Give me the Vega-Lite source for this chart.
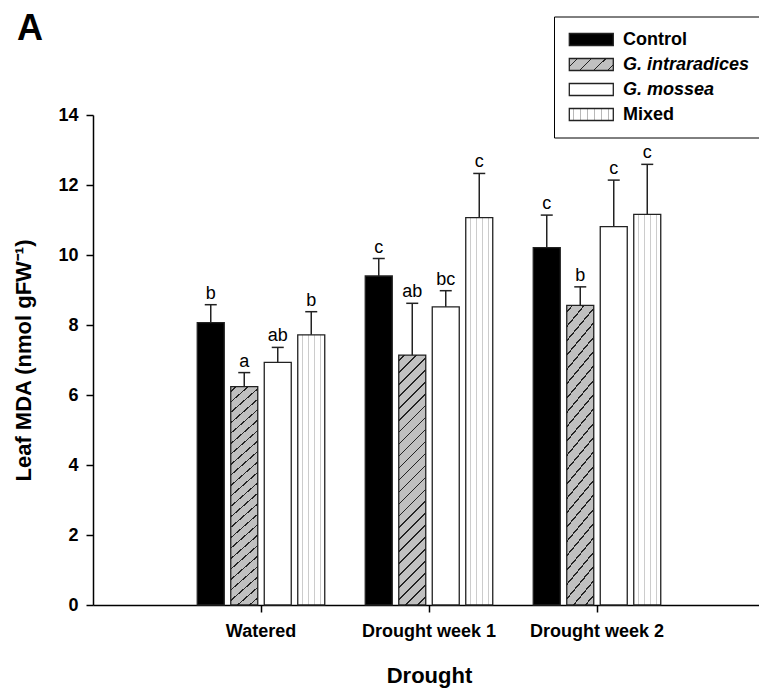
{
  "$schema": "https://vega.github.io/schema/vega-lite/v6.json",
  "width": 672,
  "height": 490,
  "autosize": {"type": "none"},
  "padding": {"left": 93, "top": 115, "right": 0, "bottom": 86},
  "background": "white",
  "config": {
    "font": "Liberation Sans",
    "view": {"stroke": null},
    "axis": {
      "grid": false,
      "domainColor": "black",
      "domainWidth": 1.5,
      "tickColor": "black",
      "tickWidth": 1.5,
      "tickSize": 7,
      "labelFont": "Liberation Sans",
      "labelFontSize": 18,
      "labelFontWeight": "bold",
      "labelColor": "black",
      "titleFont": "Liberation Sans",
      "titleFontSize": 22,
      "titleFontWeight": "bold",
      "titleColor": "black"
    }
  },
  "title": {
    "text": "A",
    "anchor": "start",
    "frame": "group",
    "fontSize": 36,
    "fontWeight": "bold",
    "color": "black",
    "dx": -76,
    "offset": -60,
    "baseline": "alphabetic"
  },
  "data": {
    "values": [
      {"drought": "Watered", "group": "Control", "value": 8.07, "upper": 8.58, "letter": "b"},
      {"drought": "Watered", "group": "G. intraradices", "value": 6.24, "upper": 6.64, "letter": "a"},
      {"drought": "Watered", "group": "G. mossea", "value": 6.93, "upper": 7.36, "letter": "ab"},
      {"drought": "Watered", "group": "Mixed", "value": 7.72, "upper": 8.38, "letter": "b"},
      {"drought": "Drought week 1", "group": "Control", "value": 9.4, "upper": 9.9, "letter": "c"},
      {"drought": "Drought week 1", "group": "G. intraradices", "value": 7.14, "upper": 8.62, "letter": "ab"},
      {"drought": "Drought week 1", "group": "G. mossea", "value": 8.52, "upper": 8.98, "letter": "bc"},
      {"drought": "Drought week 1", "group": "Mixed", "value": 11.07, "upper": 12.33, "letter": "c"},
      {"drought": "Drought week 2", "group": "Control", "value": 10.21, "upper": 11.14, "letter": "c"},
      {"drought": "Drought week 2", "group": "G. intraradices", "value": 8.56, "upper": 9.09, "letter": "b"},
      {"drought": "Drought week 2", "group": "G. mossea", "value": 10.81, "upper": 12.14, "letter": "c"},
      {"drought": "Drought week 2", "group": "Mixed", "value": 11.16, "upper": 12.59, "letter": "c"}
    ]
  },
  "encoding": {
    "x": {
      "field": "drought",
      "type": "nominal",
      "sort": ["Watered", "Drought week 1", "Drought week 2"],
      "scale": {"paddingInner": 0.2, "paddingOuter": 0.6},
      "axis": {"title": "Drought", "labelAngle": 0, "labelPadding": 10, "titlePadding": 25}
    },
    "xOffset": {
      "field": "group",
      "type": "nominal",
      "sort": ["Control", "G. intraradices", "G. mossea", "Mixed"],
      "scale": {"paddingInner": 0.194, "paddingOuter": 0.103}
    }
  },
  "layer": [
    {
      "mark": {"type": "bar", "stroke": "#222222", "strokeWidth": 1.3},
      "encoding": {
        "y": {
          "field": "value",
          "type": "quantitative",
          "title": "Leaf MDA (nmol gFW⁻¹)",
          "scale": {"domain": [0, 14], "nice": false},
          "axis": {"values": [0, 2, 4, 6, 8, 10, 12, 14], "labelPadding": 8, "titlePadding": 22}
        },
        "color": {
          "condition": [
            {
              "test": "datum.group === 'G. intraradices'",
              "value": {
                "gradient": "linear", "x1": 0, "y1": 0, "x2": 0.119, "y2": 1.1,
                "stops": [
                  {"offset": 0.017, "color": "#c0c0c0"}, {"offset": 0.017, "color": "#222222"}, {"offset": 0.023, "color": "#222222"}, {"offset": 0.023, "color": "#c0c0c0"},
                  {"offset": 0.06, "color": "#c0c0c0"}, {"offset": 0.06, "color": "#222222"}, {"offset": 0.066, "color": "#222222"}, {"offset": 0.066, "color": "#c0c0c0"},
                  {"offset": 0.103, "color": "#c0c0c0"}, {"offset": 0.103, "color": "#222222"}, {"offset": 0.109, "color": "#222222"}, {"offset": 0.109, "color": "#c0c0c0"},
                  {"offset": 0.146, "color": "#c0c0c0"}, {"offset": 0.146, "color": "#222222"}, {"offset": 0.152, "color": "#222222"}, {"offset": 0.152, "color": "#c0c0c0"},
                  {"offset": 0.189, "color": "#c0c0c0"}, {"offset": 0.189, "color": "#222222"}, {"offset": 0.195, "color": "#222222"}, {"offset": 0.195, "color": "#c0c0c0"},
                  {"offset": 0.232, "color": "#c0c0c0"}, {"offset": 0.232, "color": "#222222"}, {"offset": 0.238, "color": "#222222"}, {"offset": 0.238, "color": "#c0c0c0"},
                  {"offset": 0.275, "color": "#c0c0c0"}, {"offset": 0.275, "color": "#222222"}, {"offset": 0.281, "color": "#222222"}, {"offset": 0.281, "color": "#c0c0c0"},
                  {"offset": 0.318, "color": "#c0c0c0"}, {"offset": 0.318, "color": "#222222"}, {"offset": 0.324, "color": "#222222"}, {"offset": 0.324, "color": "#c0c0c0"},
                  {"offset": 0.361, "color": "#c0c0c0"}, {"offset": 0.361, "color": "#222222"}, {"offset": 0.367, "color": "#222222"}, {"offset": 0.367, "color": "#c0c0c0"},
                  {"offset": 0.404, "color": "#c0c0c0"}, {"offset": 0.404, "color": "#222222"}, {"offset": 0.41, "color": "#222222"}, {"offset": 0.41, "color": "#c0c0c0"},
                  {"offset": 0.447, "color": "#c0c0c0"}, {"offset": 0.447, "color": "#222222"}, {"offset": 0.453, "color": "#222222"}, {"offset": 0.453, "color": "#c0c0c0"},
                  {"offset": 0.49, "color": "#c0c0c0"}, {"offset": 0.49, "color": "#222222"}, {"offset": 0.496, "color": "#222222"}, {"offset": 0.496, "color": "#c0c0c0"},
                  {"offset": 0.533, "color": "#c0c0c0"}, {"offset": 0.533, "color": "#222222"}, {"offset": 0.539, "color": "#222222"}, {"offset": 0.539, "color": "#c0c0c0"},
                  {"offset": 0.576, "color": "#c0c0c0"}, {"offset": 0.576, "color": "#222222"}, {"offset": 0.582, "color": "#222222"}, {"offset": 0.582, "color": "#c0c0c0"},
                  {"offset": 0.619, "color": "#c0c0c0"}, {"offset": 0.619, "color": "#222222"}, {"offset": 0.625, "color": "#222222"}, {"offset": 0.625, "color": "#c0c0c0"},
                  {"offset": 0.662, "color": "#c0c0c0"}, {"offset": 0.662, "color": "#222222"}, {"offset": 0.668, "color": "#222222"}, {"offset": 0.668, "color": "#c0c0c0"},
                  {"offset": 0.705, "color": "#c0c0c0"}, {"offset": 0.705, "color": "#222222"}, {"offset": 0.711, "color": "#222222"}, {"offset": 0.711, "color": "#c0c0c0"},
                  {"offset": 0.748, "color": "#c0c0c0"}, {"offset": 0.748, "color": "#222222"}, {"offset": 0.754, "color": "#222222"}, {"offset": 0.754, "color": "#c0c0c0"},
                  {"offset": 0.791, "color": "#c0c0c0"}, {"offset": 0.791, "color": "#222222"}, {"offset": 0.797, "color": "#222222"}, {"offset": 0.797, "color": "#c0c0c0"},
                  {"offset": 0.834, "color": "#c0c0c0"}, {"offset": 0.834, "color": "#222222"}, {"offset": 0.84, "color": "#222222"}, {"offset": 0.84, "color": "#c0c0c0"},
                  {"offset": 0.877, "color": "#c0c0c0"}, {"offset": 0.877, "color": "#222222"}, {"offset": 0.883, "color": "#222222"}, {"offset": 0.883, "color": "#c0c0c0"},
                  {"offset": 0.92, "color": "#c0c0c0"}, {"offset": 0.92, "color": "#222222"}, {"offset": 0.926, "color": "#222222"}, {"offset": 0.926, "color": "#c0c0c0"},
                  {"offset": 0.963, "color": "#c0c0c0"}, {"offset": 0.963, "color": "#222222"}, {"offset": 0.969, "color": "#222222"}, {"offset": 0.969, "color": "#c0c0c0"}
                ]
              }
            },
            {
              "test": "datum.group === 'Mixed'",
              "value": {
                "gradient": "linear", "x1": 0, "y1": 0, "x2": 1, "y2": 0,
                "stops": [
                  {"offset": 0.15, "color": "#ffffff"}, {"offset": 0.15, "color": "#cccccc"}, {"offset": 0.19, "color": "#cccccc"}, {"offset": 0.19, "color": "#ffffff"},
                  {"offset": 0.37, "color": "#ffffff"}, {"offset": 0.37, "color": "#cccccc"}, {"offset": 0.41, "color": "#cccccc"}, {"offset": 0.41, "color": "#ffffff"},
                  {"offset": 0.59, "color": "#ffffff"}, {"offset": 0.59, "color": "#cccccc"}, {"offset": 0.63, "color": "#cccccc"}, {"offset": 0.63, "color": "#ffffff"},
                  {"offset": 0.81, "color": "#ffffff"}, {"offset": 0.81, "color": "#cccccc"}, {"offset": 0.85, "color": "#cccccc"}, {"offset": 0.85, "color": "#ffffff"}
                ]
              }
            }
          ],
          "field": "group",
          "type": "nominal",
          "scale": {
            "domain": ["Control", "G. intraradices", "G. mossea", "Mixed"],
            "range": [
              "#000000",
              {"expr": "{gradient: 'linear', x1: 0, y1: 0, x2: 1.185, y2: 0.3235, stops: [{offset: 0.136, color: '#c0c0c0'}, {offset: 0.136, color: '#222222'}, {offset: 0.164, color: '#222222'}, {offset: 0.164, color: '#c0c0c0'}, {offset: 0.386, color: '#c0c0c0'}, {offset: 0.386, color: '#222222'}, {offset: 0.414, color: '#222222'}, {offset: 0.414, color: '#c0c0c0'}, {offset: 0.636, color: '#c0c0c0'}, {offset: 0.636, color: '#222222'}, {offset: 0.664, color: '#222222'}, {offset: 0.664, color: '#c0c0c0'}, {offset: 0.886, color: '#c0c0c0'}, {offset: 0.886, color: '#222222'}, {offset: 0.914, color: '#222222'}, {offset: 0.914, color: '#c0c0c0'}]}"},
              "#ffffff",
              {"expr": "{gradient: 'linear', x1: 0, y1: 0, x2: 1, y2: 0, stops: [{offset: 0.09, color: '#ffffff'}, {offset: 0.09, color: '#b8b8b8'}, {offset: 0.11, color: '#b8b8b8'}, {offset: 0.11, color: '#ffffff'}, {offset: 0.25, color: '#ffffff'}, {offset: 0.25, color: '#b8b8b8'}, {offset: 0.27, color: '#b8b8b8'}, {offset: 0.27, color: '#ffffff'}, {offset: 0.41, color: '#ffffff'}, {offset: 0.41, color: '#b8b8b8'}, {offset: 0.43, color: '#b8b8b8'}, {offset: 0.43, color: '#ffffff'}, {offset: 0.57, color: '#ffffff'}, {offset: 0.57, color: '#b8b8b8'}, {offset: 0.59, color: '#b8b8b8'}, {offset: 0.59, color: '#ffffff'}, {offset: 0.73, color: '#ffffff'}, {offset: 0.73, color: '#b8b8b8'}, {offset: 0.75, color: '#b8b8b8'}, {offset: 0.75, color: '#ffffff'}, {offset: 0.89, color: '#ffffff'}, {offset: 0.89, color: '#b8b8b8'}, {offset: 0.91, color: '#b8b8b8'}, {offset: 0.91, color: '#ffffff'}]}"}
            ]
          },
          "legend": {
            "title": null,
            "orient": "none",
            "legendX": 461,
            "legendY": -98.5,
            "direction": "vertical",
            "strokeColor": "black",
            "fillColor": "white",
            "padding": 14,
            "symbolType": "M-1.4,-1.09H6.6V1.09H-1.4Z",
            "symbolSize": 121,
            "symbolStrokeColor": "#222222",
            "symbolStrokeWidth": 1.3,
            "symbolOpacity": 1,
            "labelFont": "Liberation Sans",
            "labelFontSize": 18,
            "labelFontWeight": "bold",
            "labelColor": "black",
            "labelOffset": 37,
            "labelLimit": 400,
            "rowPadding": 7,
            "encode": {
              "symbols": {
                "update": {
                  "stroke": {"value": "#222222"},
                  "strokeWidth": {"value": 1.3}
                }
              },
              "labels": {
                "update": {
                  "fontStyle": [
                    {"test": "datum.value === 'G. intraradices' || datum.value === 'G. mossea'", "value": "italic"},
                    {"value": "normal"}
                  ]
                }
              }
            }
          }
        }
      }
    },
    {
      "mark": {"type": "rule", "color": "#222222", "strokeWidth": 1.5},
      "encoding": {
        "y": {"field": "value", "type": "quantitative", "title": "Leaf MDA (nmol gFW⁻¹)"},
        "y2": {"field": "upper"}
      }
    },
    {
      "mark": {"type": "tick", "color": "#222222", "thickness": 1.5, "size": 12, "opacity": 1},
      "encoding": {
        "y": {"field": "upper", "type": "quantitative", "title": "Leaf MDA (nmol gFW⁻¹)"}
      }
    },
    {
      "mark": {"type": "text", "font": "Liberation Sans", "fontSize": 18, "baseline": "alphabetic", "dy": -6, "color": "black"},
      "encoding": {
        "y": {"field": "upper", "type": "quantitative", "title": "Leaf MDA (nmol gFW⁻¹)"},
        "text": {"field": "letter"}
      }
    }
  ]
}
